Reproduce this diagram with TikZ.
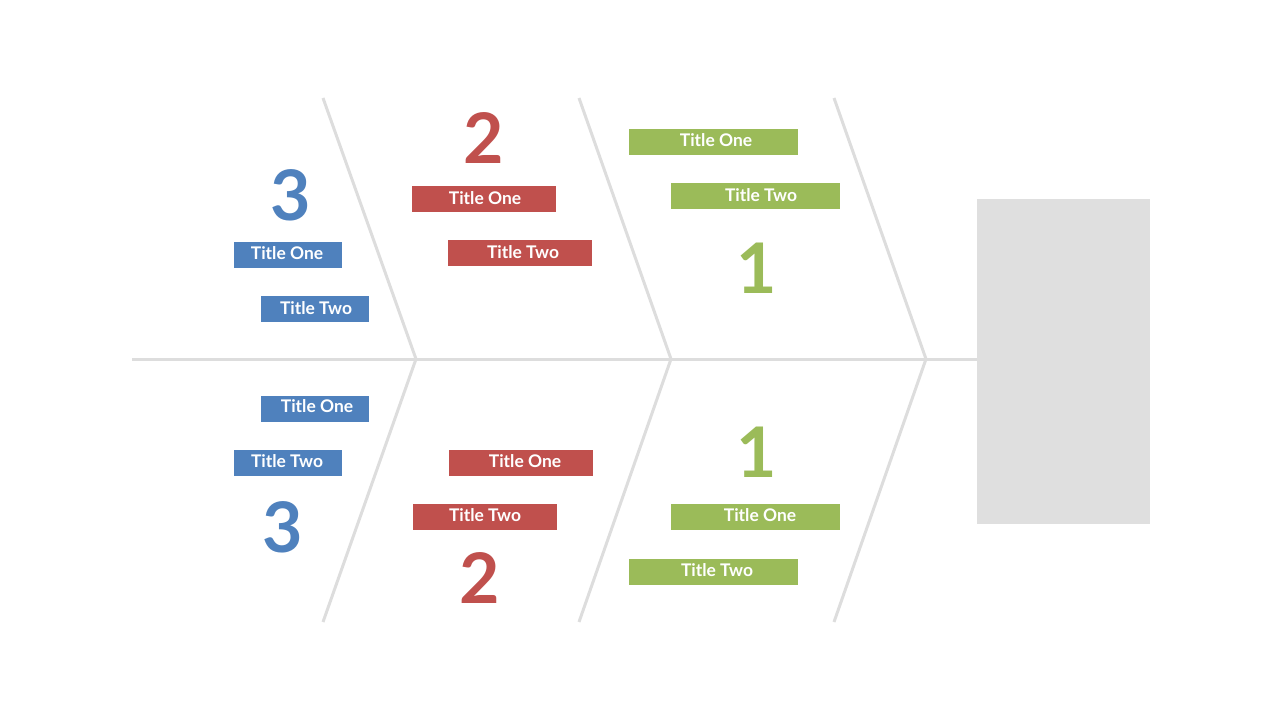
\documentclass[tikz,border=0pt]{standalone}
\usepackage{fontspec}
\setmainfont{Lato}
\definecolor{bonecol}{HTML}{DDDDDD}
\definecolor{headcol}{HTML}{DFDFDF}
\definecolor{bluecol}{HTML}{4F81BD}
\definecolor{redcol}{HTML}{C0504D}
\definecolor{greencol}{HTML}{9BBB59}
\begin{document}
\begin{tikzpicture}[x=1bp,y=-1bp,
  bone/.style={draw=bonecol,line width=3bp,line cap=butt,line join=miter},
  tag/.style={minimum height=26bp,inner sep=0pt},
  tagb/.style={tag,fill=bluecol,minimum width=108bp},
  tagr/.style={tag,fill=redcol,minimum width=144bp},
  tagg/.style={tag,fill=greencol,minimum width=169bp},
  num/.style={inner sep=0pt,font=\fontsize{70}{70}\selectfont\bfseries},
  lbl/.style={inner sep=0pt,text=white,font=\fontsize{17.5}{19}\selectfont\bfseries}]
\useasboundingbox (0,0) rectangle (1280,720);
% head
\node[fill=headcol,minimum width=173bp,minimum height=325bp,inner sep=0pt,anchor=north west] (head) at (977,199) {};
% spine
\coordinate (tail) at (132,359);
\coordinate (j3) at (416,359);
\coordinate (j2) at (671,359);
\coordinate (j1) at (926,359);
\draw[bone] (tail) -- (tail -| head.west);
% chevrons
\coordinate (t3) at (323,98); \coordinate (b3) at (323,622);
\coordinate (t2) at (579,98); \coordinate (b2) at (579,622);
\coordinate (t1) at (834,98); \coordinate (b1) at (834,622);
\draw[bone] (t3) -- (j3) -- (b3);
\draw[bone] (t2) -- (j2) -- (b2);
\draw[bone] (t1) -- (j1) -- (b1);
% blue
\node[num,text=bluecol] (n3a) at (291,195) {3};
\node[tagb] (b3a) at (288,255) {};
\node[lbl] at (287,253) {Title One};
\node[tagb] (b3b) at (315,309) {};
\node[lbl] at (316,308) {Title Two};
\node[tagb] (b3c) at (315,409) {};
\node[lbl] at (317,406) {Title One};
\node[tagb] (b3d) at (288,463) {};
\node[lbl] at (287,461) {Title Two};
\node[num,text=bluecol] (n3b) at (283,527) {3};
% red
\node[num,text=redcol] (n2a) at (484,138) {2};
\node[tagr] (r2a) at (484,199) {};
\node[lbl] at (485,198) {Title One};
\node[tagr] (r2b) at (520,253) {};
\node[lbl] at (523,252) {Title Two};
\node[tagr] (r2c) at (521,463) {};
\node[lbl] at (525,461) {Title One};
\node[tagr] (r2d) at (485,517) {};
\node[lbl] at (485,515) {Title Two};
\node[num,text=redcol] (n2b) at (480,578) {2};
% green
\node[tagg] (g1a) at (713,142) {};
\node[lbl] at (716,140) {Title One};
\node[tagg] (g1b) at (755,196) {};
\node[lbl] at (761,195) {Title Two};
\node[num,text=greencol] (n1a) at (757,268) {1};
\node[num,text=greencol] (n1b) at (757,452) {1};
\node[tagg] (g1c) at (755,517) {};
\node[lbl] at (760,515) {Title One};
\node[tagg] (g1d) at (713,572) {};
\node[lbl] at (717,570) {Title Two};
\end{tikzpicture}
\end{document}
